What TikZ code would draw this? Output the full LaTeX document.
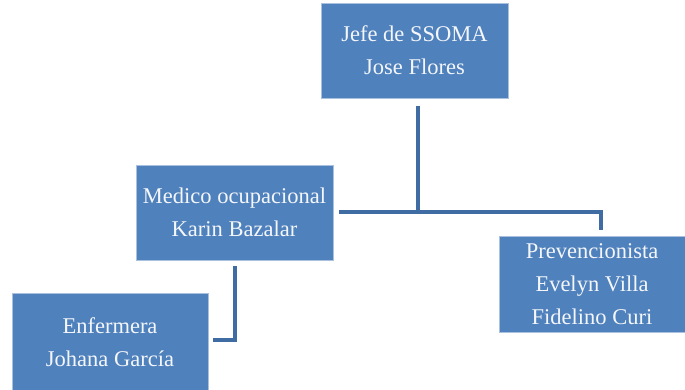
\documentclass[tikz,border=0pt]{standalone}
\usepackage{fontspec}
\setmainfont{Liberation Serif}
\definecolor{boxblue}{HTML}{4F81BD}
\definecolor{boxedge}{HTML}{A9C0DE}
\definecolor{linkblue}{HTML}{3F6CA3}
\definecolor{txt}{HTML}{F4F6FA}
\begin{document}
\begin{tikzpicture}[x=1pt,y=-1pt,
  orgbox/.style={draw=boxedge,line width=0.8pt,fill=boxblue,text=txt,align=center,
    inner sep=0pt,font=\fontsize{22.5}{33}\selectfont},
  link/.style={draw=linkblue,line width=4.5pt}]
\useasboundingbox (0,0) rectangle (685,389);
\node[orgbox,minimum width=187pt,minimum height=95pt] (jefe) at (414.5,50.5) {Jefe de SSOMA\\Jose Flores};
\node[orgbox,minimum width=197pt,minimum height=95pt] (medico) at (234.5,212.5) {Medico ocupacional\\Karin Bazalar};
\node[orgbox,minimum width=186pt,minimum height=96pt] (prev) at (592,284) {Prevencionista\\Evelyn Villa\\Fidelino Curi};
\node[orgbox,minimum width=196pt,minimum height=98pt] (enf) at (110,342) {Enfermera\\Johana García};
\coordinate (j1) at (418,106);
\coordinate (j2) at (418,212);
\coordinate (m1) at (339,212);
\coordinate (p1) at (601,230);
\coordinate (e1) at (235,266);
\coordinate (e2) at (213,340);
\draw[link] (j1) -- (j2);
\draw[link] (m1) -- (601,212) -- (p1);
\draw[link] (e1) -- (235,340) -- (e2);
\end{tikzpicture}
\end{document}
